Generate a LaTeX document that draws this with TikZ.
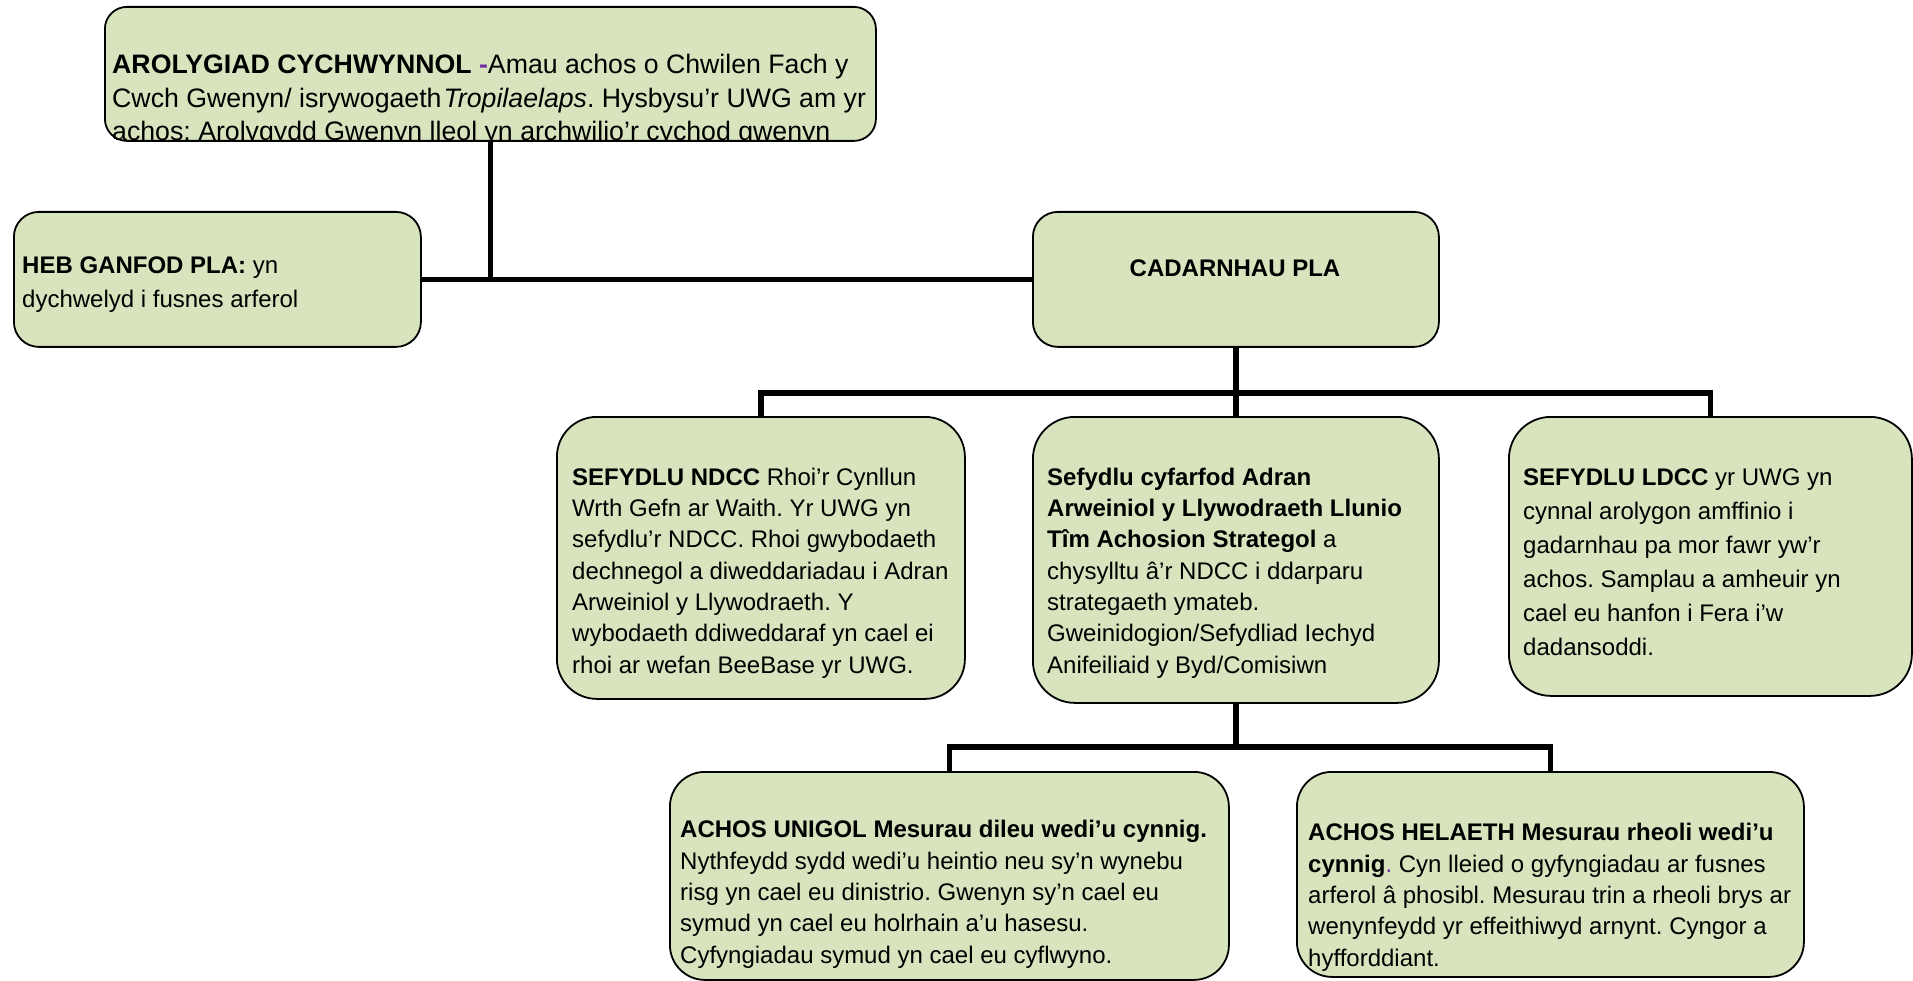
\documentclass[tikz,border=0pt]{standalone}
\usepackage{fontspec}
\setmainfont{Liberation Sans}
\usepackage{xcolor}
\definecolor{boxgreen}{HTML}{D7E4BD}
\definecolor{markpurple}{HTML}{7030A0}
\frenchspacing

\begin{document}
\begin{tikzpicture}[x=1pt,y=-1pt,
	box/.style={draw, line width=1.8pt, fill=boxgreen, anchor=north west, inner sep=0pt},
	txt/.style={anchor=base west, align=left, inner sep=0pt, font=\fontsize{24}{31.3}\selectfont},
	link/.style={line width=5.5pt}]

	\useasboundingbox (0,0) rectangle (1913,981);

	% boxes
	\node[box, rounded corners=22pt, minimum width=771pt, minimum height=134pt] (init) at (104,6) {};
	\node[box, rounded corners=25pt, minimum width=407pt, minimum height=135pt] (heb) at (13,211) {};
	\node[box, rounded corners=25pt, minimum width=406pt, minimum height=135pt] (cad) at (1032,211) {};
	\node[box, rounded corners=40pt, minimum width=408pt, minimum height=282pt] (ndcc) at (556,416) {};
	\node[box, rounded corners=42pt, minimum width=406pt, minimum height=286pt] (strat) at (1032,416) {};
	\node[box, rounded corners=42pt, minimum width=403pt, minimum height=279pt] (ldcc) at (1508,416) {};
	\node[box, rounded corners=35pt, minimum width=559pt, minimum height=208pt] (unigol) at (669,771) {};
	\node[box, rounded corners=35pt, minimum width=507pt, minimum height=205pt] (helaeth) at (1296,771) {};

	% texts (placed by the baseline of their last line)
	\begin{scope}
		\clip[rounded corners=22pt] (init.north west) rectangle (init.south east);
		\node[txt, font=\fontsize{26.7}{33.5}\selectfont] (init-txt) at (112,141) {\textbf{AROLYGIAD CYCHWYNNOL} \textcolor{markpurple}{\textbf{-}}Amau achos o Chwilen Fach y\\
			Cwch Gwenyn/ isrywogaeth\hspace{2pt}\textit{Tropilaelaps}. Hysbysu’r UWG am yr\\
			achos; Arolygydd Gwenyn lleol yn archwilio’r cychod gwenyn};
	\end{scope}
	\node[txt, font=\fontsize{24}{34}\selectfont] (heb-txt) at (22,308) {\textbf{HEB GANFOD PLA:} yn\\
		dychwelyd i fusnes arferol};
	\node[txt, anchor=base] (cad-txt) at (1235,277) {\textbf{CADARNHAU PLA}};
	\node[txt] (ndcc-txt) at (572,673) {\textbf{SEFYDLU NDCC} Rhoi’r Cynllun\\
		Wrth Gefn ar Waith. Yr UWG yn\\
		sefydlu’r NDCC. Rhoi gwybodaeth\\
		dechnegol a diweddariadau i Adran\\
		Arweiniol y Llywodraeth. Y\\
		wybodaeth ddiweddaraf yn cael ei\\
		rhoi ar wefan BeeBase yr UWG.};
	\node[txt] (strat-txt) at (1047,673) {\textbf{Sefydlu cyfarfod Adran}\\
		\textbf{Arweiniol y Llywodraeth Llunio}\\
		\textbf{Tîm Achosion Strategol} a\\
		chysylltu â’r NDCC i ddarparu\\
		strategaeth ymateb.\\
		Gweinidogion/Sefydliad Iechyd\\
		Anifeiliaid y Byd/Comisiwn};
	\node[txt, font=\fontsize{24}{34}\selectfont] (ldcc-txt) at (1523,655) {\textbf{SEFYDLU LDCC} yr UWG yn\\
		cynnal arolygon amffinio i\\
		gadarnhau pa mor fawr yw’r\\
		achos. Samplau a amheuir yn\\
		cael eu hanfon i Fera i’w\\
		dadansoddi.};
	\begin{scope}
		\clip[rounded corners=35pt] (unigol.north west) rectangle (unigol.south east);
		\node[txt] (unigol-txt) at (680,963) {\textbf{ACHOS UNIGOL Mesurau dileu wedi’u cynnig.}\\
			Nythfeydd sydd wedi’u heintio neu sy’n wynebu\\
			risg yn cael eu dinistrio. Gwenyn sy’n cael eu\\
			symud yn cael eu holrhain a’u hasesu.\\
			Cyfyngiadau symud yn cael eu cyflwyno.};
	\end{scope}
	\begin{scope}
		\clip[rounded corners=35pt] (helaeth.north west) rectangle (helaeth.south east);
		\node[txt] (helaeth-txt) at (1308,966) {\textbf{ACHOS HELAETH Mesurau rheoli wedi’u}\\
			\textbf{cynnig}\textcolor{markpurple}{.} Cyn lleied o gyfyngiadau ar fusnes\\
			arferol â phosibl. Mesurau trin a rheoli brys ar\\
			wenynfeydd yr effeithiwyd arnynt. Cyngor a\\
			hyfforddiant.};
	\end{scope}

	% connectors
	\coordinate (bar1) at (0,393);
	\coordinate (bar2) at (0,747);
	\draw[link] (heb.east) -- (cad.west);
	\draw[link] (init.south) -- (init.south |- heb.east);
	\draw[link] (cad.south) -- (strat.north);
	\draw[link] (ndcc.north) |- (ldcc.north |- bar1) -- (ldcc.north);
	\draw[link] (strat.south) -- (strat.south |- bar2);
	\draw[link] (unigol.north) |- (helaeth.north |- bar2) -- (helaeth.north);

\end{tikzpicture}
\end{document}
